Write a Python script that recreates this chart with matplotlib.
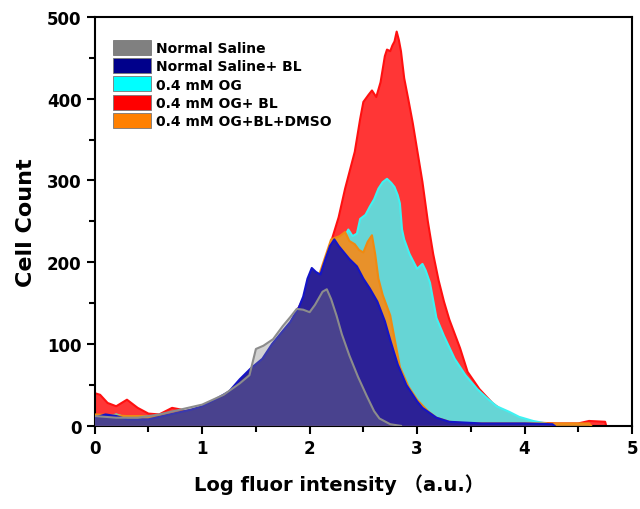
import matplotlib
matplotlib.use("Agg")
import matplotlib.pyplot as plt
from matplotlib.patches import Patch
from matplotlib.ticker import MultipleLocator

plt.rcParams["font.family"] = ["DejaVu Sans", "Noto Sans CJK SC"]
plt.rcParams["font.weight"] = "bold"

# ---------------------------------------------------------------- data
labels = ["Normal Saline", "Normal Saline+ BL", "0.4 mM OG", "0.4 mM OG+ BL", "0.4 mM OG+BL+DMSO"]

red_x = [0, 0.05, 0.12, 0.2, 0.3, 0.4, 0.5, 0.6, 0.72, 0.8, 0.9, 1.0, 1.2, 1.4, 1.6, 1.8,
         2.0, 2.1, 2.2, 2.27, 2.33, 2.37, 2.42, 2.47, 2.5, 2.55, 2.58, 2.62, 2.66, 2.7, 2.72,
         2.75, 2.77, 2.79, 2.81, 2.83, 2.85, 2.88, 2.92, 2.96, 3.0, 3.05, 3.1, 3.15, 3.2,
         3.25, 3.3, 3.4, 3.47, 3.58, 3.7, 3.8, 3.9, 4.0, 4.1, 4.3, 4.5, 4.6, 4.75, 4.76]
red_y = [40, 38, 28, 24, 32, 22, 15, 14, 22, 20, 15, 20, 30, 50, 85, 120,
         170, 185, 225, 255, 290, 310, 335, 375, 396, 405, 410, 402, 420, 452, 460,
         458, 465, 470, 482, 472, 458, 425, 398, 370, 338, 298, 250, 210, 178,
         152, 130, 95, 66, 45, 28, 18, 12, 6, 4, 3, 3, 6, 5, 0]

cyan_x = [0, 0.1, 0.2, 0.3, 0.5, 0.7, 1.0, 1.5, 2.0, 2.2, 2.3, 2.36, 2.4, 2.44, 2.47, 2.52,
          2.56, 2.6, 2.64, 2.68, 2.72, 2.76, 2.79, 2.82, 2.84, 2.86, 2.88, 2.93, 3.0, 3.05,
          3.08, 3.12, 3.18, 3.25, 3.35, 3.45, 3.56, 3.65, 3.74, 3.86, 3.95, 4.08, 4.2, 4.25]
cyan_y = [12, 10, 14, 10, 8, 12, 20, 60, 150, 205, 225, 240, 232, 235, 253, 258,
          268, 277, 290, 298, 302, 297, 292, 282, 272, 240, 228, 210, 192, 198,
          190, 175, 132, 110, 82, 62, 45, 34, 24, 17, 11, 6, 3, 0]

orange_x = [0, 0.3, 0.6, 1.0, 1.5, 2.0, 2.2, 2.28, 2.33, 2.37, 2.42, 2.46, 2.5, 2.54, 2.58,
            2.61, 2.64, 2.68, 2.75, 2.84, 2.92, 3.0, 3.1, 3.18, 3.3, 3.45, 3.8, 4.3, 4.6, 4.62]
orange_y = [14, 12, 12, 22, 60, 150, 228, 232, 237, 226, 222, 215, 212, 225, 233,
            210, 180, 160, 135, 72, 48, 32, 18, 10, 5, 3, 3, 3, 3, 0]

navy_x = [0, 0.1, 0.2, 0.3, 0.5, 0.7, 0.9, 1.0, 1.13, 1.25, 1.35, 1.45, 1.56, 1.65, 1.75,
          1.82, 1.9, 1.94, 1.98, 2.02, 2.06, 2.1, 2.15, 2.19, 2.23, 2.27, 2.32, 2.37, 2.44,
          2.5, 2.56, 2.63, 2.7, 2.75, 2.82, 2.9, 3.0, 3.05, 3.18, 3.3, 3.6, 4.0, 4.26, 4.28]
navy_y = [10, 14, 12, 8, 8, 14, 20, 24, 33, 42, 57, 70, 82, 100, 116,
          127, 145, 158, 180, 193, 188, 185, 205, 220, 228, 220, 212, 204, 195,
          180, 168, 152, 128, 105, 75, 50, 30, 22, 10, 5, 3, 3, 2, 0]

grey_x = [0, 0.2, 0.4, 0.6, 0.8, 1.0, 1.2, 1.35, 1.44, 1.5, 1.57, 1.66, 1.75, 1.82, 1.88,
          1.94, 2.0, 2.05, 2.12, 2.16, 2.2, 2.25, 2.3, 2.37, 2.45, 2.53, 2.6, 2.65, 2.75, 2.85]
grey_y = [12, 10, 10, 14, 20, 26, 38, 52, 62, 94, 98, 106, 122, 133, 143,
          142, 139, 148, 164, 167, 155, 135, 112, 86, 60, 37, 18, 9, 2, 0]

# ---------------------------------------------------------------- figure
fig = plt.figure(figsize=(6.4, 5.1), dpi=100)
ax = fig.add_axes([0.148, 0.163, 0.8395, 0.802])

series = [
    (red_x, red_y, "#ff3636", "#ff1010", 1.0),
    (cyan_x, cyan_y, "#66d5d5", "#3ff2f2", 1.0),
    (orange_x, orange_y, "#e8912a", "#f08a10", 1.0),
    (navy_x, navy_y, "#2c2196", "#1414c8", 1.0),
    (grey_x, grey_y, "#808080", "#8c8c8c", 0.35),
]
for z, (xs, ys, fc, ec, a) in enumerate(series):
    ax.fill_between(xs, ys, 0, facecolor=fc, edgecolor="none", alpha=a, zorder=2 + z)
    ax.plot(xs, ys, color=ec, lw=1.5, zorder=2 + z)

ax.set_xlim(0, 5)
ax.set_ylim(0, 500)
ax.xaxis.set_major_locator(MultipleLocator(1))
ax.xaxis.set_minor_locator(MultipleLocator(0.5))
ax.yaxis.set_major_locator(MultipleLocator(100))
ax.yaxis.set_minor_locator(MultipleLocator(50))
ax.tick_params(which="both", direction="out", width=1.5, labelsize=12, top=False, right=False)
ax.tick_params(which="major", length=6)
ax.tick_params(which="minor", length=4)
for lab in ax.get_xticklabels() + ax.get_yticklabels():
    lab.set_fontweight("bold")
for s in ax.spines.values():
    s.set_linewidth(1.5)

ax.set_ylabel("Cell Count", fontsize=16, fontweight="bold", labelpad=8)
ax.set_xlabel("Log fluor intensity （a.u.）", fontsize=14, fontweight="bold",
              x=0.455, labelpad=12)

handles = [Patch(facecolor=c, edgecolor="#777777", linewidth=0.6)
           for c in ["#808080", "#00008b", "#00ffff", "#ff0000", "#ff8000"]]
leg = ax.legend(handles, labels, loc="upper left", bbox_to_anchor=(0.034, 0.944),
                frameon=False, borderpad=0, borderaxespad=0, handlelength=2.73,
                handleheight=1.3, labelspacing=0.22, handletextpad=0.36,
                prop={"size": 10, "weight": "bold"})
leg.set_zorder(10)

fig.savefig("out.png", dpi=100)
